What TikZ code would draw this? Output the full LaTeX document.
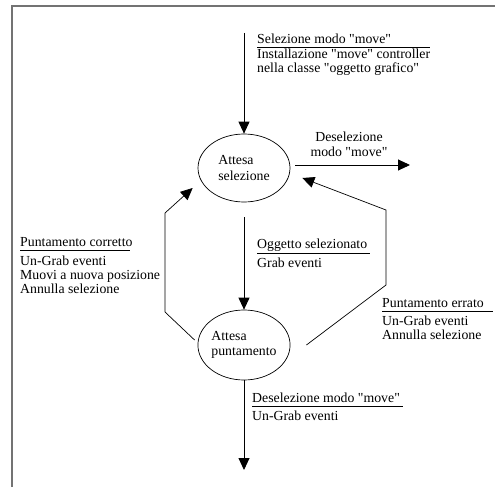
\documentclass[tikz,border=0pt]{standalone}
\usepackage{fontspec}
\setmainfont{Liberation Serif}[Ligatures=TeXOff]
\usetikzlibrary{arrows.meta,shapes.geometric}
\begin{document}
\begin{tikzpicture}[x=1pt,y=-1pt,
  every node/.style={font=\fontsize{13.8}{15.5}\selectfont, inner sep=0pt},
  st/.style={draw, ellipse, line width=0.7pt, minimum width=92pt, minimum height=68pt, align=left},
  arr/.style={line width=0.9pt, -{Triangle[length=12pt,width=11pt]}},
  lbl/.style={anchor=base west},
  rul/.style={line width=0.8pt},
  frame/.style={line width=1.5pt, color=black!55}]
\useasboundingbox (0,0) rectangle (495,487);
\draw[frame] (12,487) -- (12,6) -- (495,6);

\node[st] (sel) at (244,168) {Attesa\\selezione};
\node[st, minimum width=86pt, minimum height=70pt] (punt) at (244,345) {Attesa\\puntamento};

\coordinate (tstart) at (244,33);
\coordinate (rend) at (410,165);
\coordinate (bend) at (244,470);

% top arrow
\draw[arr] (tstart) -- (sel.north);
% right arrow
\draw[arr] ([shift={(5,-3)}]sel.east) -- (rend);
% middle arrow
\draw[arr] ([yshift=-15pt]sel.south) -- (punt.north);
% bottom arrow
\draw[arr] (punt.south) -- (bend);
% left loop
\draw[arr, line width=0.7pt] ([shift={(-3,-5)}]punt.west) -- (165,312) -- (165,213) -- ([shift={(-5,20)}]sel.west);
% right loop
\draw[arr, line width=0.7pt] ([xshift=16pt]punt.east) -- (386,285) -- (386,210) -- ([shift={(12,10)}]sel.east);

% top label
\node[lbl] (t1) at (257,44) {Selezione modo "move"};
\draw[rul] (257,47.5) -- (430,47.5);
\node[lbl] (t2) at (257,59) {Installazione "move" controller};
\node[lbl] (t3) at (257,73) {nella classe "oggetto grafico"};

% right label
\node[anchor=base] (r1) at (349,141) {Deselezione};
\node[anchor=base] (r2) at (349,156) {modo "move"};

% middle label
\node[lbl] (m1) at (257,248.5) {Oggetto selezionato};
\draw[rul] (257,253) -- (370,253);
\node[lbl] (m2) at (257,267) {Grab eventi};

% left label
\node[lbl] (l1) at (20,246) {Puntamento corretto};
\draw[rul] (20,250) -- (130,250);
\node[lbl] (l2) at (20,265) {Un-Grab eventi};
\node[lbl] (l3) at (20,279) {Muovi a nuova posizione};
\node[lbl] (l4) at (20,293) {Annulla selezione};

% right loop label
\node[lbl] (e1) at (382,307) {Puntamento errato};
\draw[rul] (382,311.5) -- (493,311.5);
\node[lbl] (e2) at (382,325) {Un-Grab eventi};
\node[lbl] (e3) at (382,339) {Annulla selezione};

% bottom label
\node[lbl] (b1) at (252,402.5) {Deselezione modo "move"};
\draw[rul] (252,406) -- (403,406);
\node[lbl] (b2) at (252,420) {Un-Grab eventi};
\end{tikzpicture}
\end{document}
